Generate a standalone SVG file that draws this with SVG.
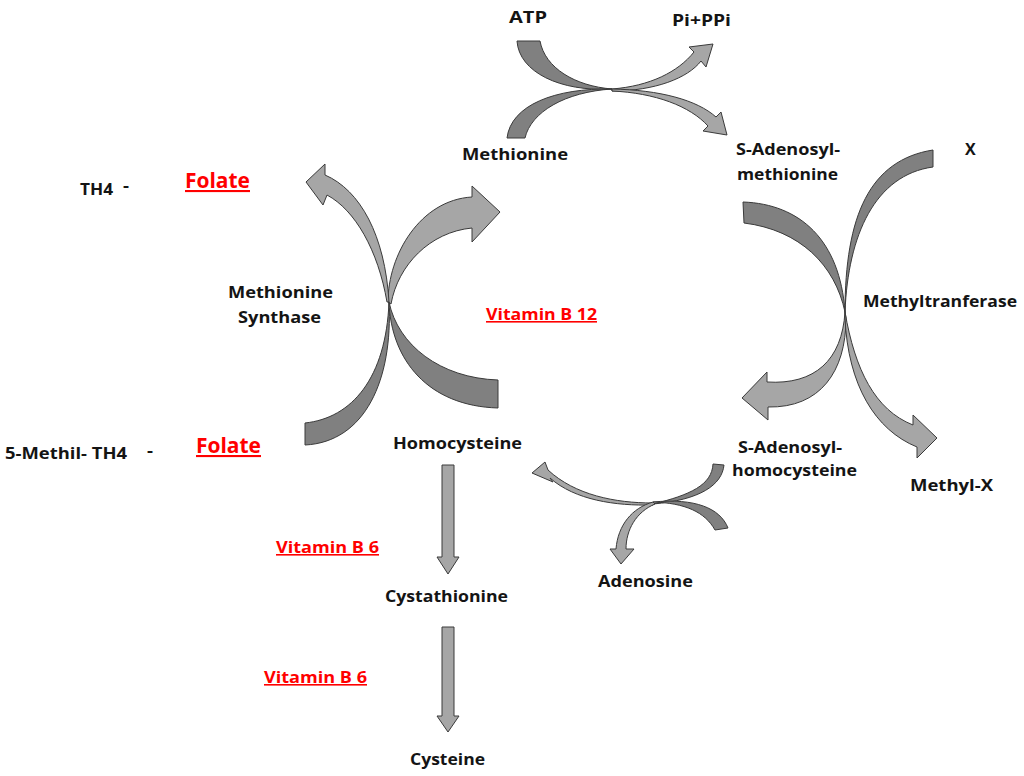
<svg xmlns="http://www.w3.org/2000/svg" width="1024" height="776" viewBox="0 0 1024 776">
<style>
.t{font-family:"Open Sans","Liberation Sans",sans-serif;font-weight:bold;font-size:16px;fill:#141414}
.r{font-family:"Open Sans","Liberation Sans",sans-serif;font-weight:bold;font-size:16px;fill:#ff0000;text-decoration:underline}
.f{font-size:21px}
.d{fill:#808080;stroke:#3a3a3a;stroke-width:1;stroke-linejoin:round}
.l{fill:#a6a6a6;stroke:#3a3a3a;stroke-width:1;stroke-linejoin:round}
</style>
<rect width="1024" height="776" fill="#fff"/>
<g id="connectors">
  <!-- top: ATP -> Pi+PPi ; Methionine -> SAM -->
  <path class="d" d="M517,41 L540,41 C545,68 575,86 612,89 C560,92 519,72 517,41 Z"/>
  <path class="l" d="M612,89 C650,86 678,72 694,52 L689,47 L713,44 L706,67 L701,61 C688,78 655,91 612,91 Z"/>
  <path class="d" d="M507,138 C511,105 555,88 612,89 C565,92 531,112 525,138 Z"/>
  <path class="l" d="M612,89 C660,90 697,100 716,117 L721,112 L727,135 L703,131 L708,126 C690,106 655,93 612,91 Z"/>
  <!-- left cross: methionine synthase -->
  <path class="d" d="M305,423 C352,418 386,378 389,302 C393,380 365,442 305,445 Z"/>
  <path class="l" d="M388,302 C388,255 420,200 472,197 L472,186 L500,212 L472,242 L472,228 C430,232 398,265 391,304 Z"/>
  <path class="l" d="M389,302 C385,235 360,190 325,175 L325,164 L306,182 L323,205 L327,195 C355,210 378,250 387,302 Z"/>
  <path class="d" d="M498,380 C440,378 398,345 389,302 C391,360 428,406 498,408 Z"/>
  <!-- right cross: methyltransferase -->
  <path class="d" d="M743,202 C800,204 840,240 845,312 C835,265 800,230 744,223 Z"/>
  <path class="l" d="M845,312 C842,360 815,385 767,382 L767,372 L742,398 L768,420 L768,407 C820,408 846,372 846,318 Z"/>
  <path class="d" d="M933,150 C870,160 845,215 845,312 C848,235 875,175 933,167 Z"/>
  <path class="l" d="M845,312 C855,370 875,410 913,425 L913,415 L937,438 L917,458 L917,447 C875,430 848,385 845,318 Z"/>
  <!-- bottom: SAH -> Homocysteine ; -> Adenosine -->
  <path class="d" d="M713,464 L724,465 C722,485 700,500 653,504 C690,495 712,485 713,464 Z"/>
  <path class="l" d="M653,503 C615,503 575,495 548,470 L545,462 L532,473 L553,482 L550,478 C575,500 615,506 653,505 Z"/>
  <path class="d" d="M715,530 L728,528 C720,508 695,498 653,502 C685,503 705,512 715,530 Z"/>
  <path class="l" d="M653,502 C632,508 618,525 616,549 L610,549 L621,564 L634,549 L626,549 C626,530 636,512 655,504 Z"/>
  <!-- straight down arrows -->
  <path class="l" d="M442,465 L454,465 L454,557 L459,557 L448,574 L437,557 L442,557 Z"/>
  <path class="l" d="M442,627 L454,627 L454,716 L459,716 L448,732 L437,716 L442,716 Z"/>
</g>
<g id="atp"><text class="t" x="509" y="23" textLength="38" lengthAdjust="spacingAndGlyphs">ATP</text></g>
<g id="pippi"><text class="t" x="672" y="26" textLength="59" lengthAdjust="spacingAndGlyphs">Pi+PPi</text></g>
<g id="methionine"><text class="t" x="462" y="160" textLength="106" lengthAdjust="spacingAndGlyphs">Methionine</text></g>
<g id="sam">
  <text class="t" x="736" y="155" textLength="104" lengthAdjust="spacingAndGlyphs">S-Adenosyl-</text>
  <text class="t" x="737" y="180" textLength="101" lengthAdjust="spacingAndGlyphs">methionine</text>
</g>
<g id="x"><text class="t" x="965" y="155">X</text></g>
<g id="th4">
  <text class="t" x="80" y="195" textLength="33" lengthAdjust="spacingAndGlyphs">TH4</text>
  <text class="t" x="123" y="191" textLength="6" lengthAdjust="spacingAndGlyphs">-</text>
</g>
<g id="folate1"><text class="r f" x="185" y="188" textLength="65" lengthAdjust="spacingAndGlyphs">Folate</text></g>
<g id="synthase">
  <text class="t" x="228" y="298" textLength="105" lengthAdjust="spacingAndGlyphs">Methionine</text>
  <text class="t" x="238" y="323" textLength="83" lengthAdjust="spacingAndGlyphs">Synthase</text>
</g>
<g id="b12"><text class="r" x="486" y="320" textLength="111" lengthAdjust="spacingAndGlyphs">Vitamin B 12</text></g>
<g id="methyltransferase"><text class="t" x="863" y="307" textLength="154" lengthAdjust="spacingAndGlyphs">Methyltranferase</text></g>
<g id="methylth4">
  <text class="t" x="5" y="459" textLength="122" lengthAdjust="spacingAndGlyphs">5-Methil- TH4</text>
  <text class="t" x="147" y="456" textLength="6" lengthAdjust="spacingAndGlyphs">-</text>
</g>
<g id="folate2"><text class="r f" x="196" y="453" textLength="65" lengthAdjust="spacingAndGlyphs">Folate</text></g>
<g id="homocysteine"><text class="t" x="393" y="449" textLength="129" lengthAdjust="spacingAndGlyphs">Homocysteine</text></g>
<g id="sah">
  <text class="t" x="738" y="453" textLength="104" lengthAdjust="spacingAndGlyphs">S-Adenosyl-</text>
  <text class="t" x="732" y="476" textLength="125" lengthAdjust="spacingAndGlyphs">homocysteine</text>
</g>
<g id="methylx"><text class="t" x="910" y="491" textLength="83" lengthAdjust="spacingAndGlyphs">Methyl-X</text></g>
<g id="b6a"><text class="r" x="276" y="553" textLength="103" lengthAdjust="spacingAndGlyphs">Vitamin B 6</text></g>
<g id="adenosine"><text class="t" x="598" y="587" textLength="95" lengthAdjust="spacingAndGlyphs">Adenosine</text></g>
<g id="cystathionine"><text class="t" x="385" y="602" textLength="123" lengthAdjust="spacingAndGlyphs">Cystathionine</text></g>
<g id="b6b"><text class="r" x="264" y="683" textLength="103" lengthAdjust="spacingAndGlyphs">Vitamin B 6</text></g>
<g id="cysteine"><text class="t" x="410" y="765" textLength="75" lengthAdjust="spacingAndGlyphs">Cysteine</text></g>
</svg>
